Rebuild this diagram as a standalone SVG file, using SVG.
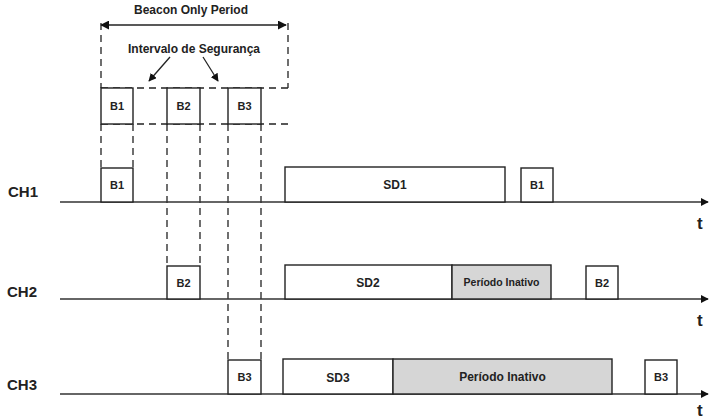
<svg xmlns="http://www.w3.org/2000/svg" width="709" height="420" viewBox="0 0 709 420">
  <defs>
    <marker id="tip" viewBox="0 0 10 10" refX="9" refY="5" markerWidth="8" markerHeight="8" markerUnits="userSpaceOnUse" orient="auto">
      <path d="M0,0 L10,5 L0,10 z" fill="#111"/>
    </marker>
    <marker id="tipBoth" viewBox="0 0 10 10" refX="9" refY="5" markerWidth="9" markerHeight="9" markerUnits="userSpaceOnUse" orient="auto-start-reverse">
      <path d="M0,0 L10,5 L0,10 z" fill="#111"/>
    </marker>
  </defs>
  <style>
    text { font-family: "Liberation Sans", Arial, sans-serif; font-weight: bold; fill: #222; }
    .box { fill: #fff; stroke: #222; stroke-width: 1.4; }
    .idle { fill: #d6d6d6; stroke: #222; stroke-width: 1.4; }
    .axis { stroke: #333; stroke-width: 1.5; fill: none; }
    .dash { stroke: #222; stroke-width: 1.3; stroke-dasharray: 7 5; fill: none; }
    .ptr { stroke: #222; stroke-width: 1.3; fill: none; }
    .b { font-size: 11px; text-anchor: middle; }
    .sd { font-size: 12px; text-anchor: middle; }
    .ch { font-size: 15px; }
    .t { font-size: 17px; }
  </style>
  <rect width="709" height="420" fill="#fff"/>

  <!-- period annotation at the top -->
  <g id="beacon-period">
    <text x="191" y="14" font-size="12" text-anchor="middle">Beacon Only Period</text>
    <line x1="101" y1="25" x2="286" y2="25" class="ptr" marker-start="url(#tipBoth)" marker-end="url(#tipBoth)"/>
    <text x="194" y="53" font-size="12" text-anchor="middle">Intervalo de Segurança</text>
  </g>

  <!-- connectors: dashed guides, pointers and time axes -->
  <g id="connectors">
    <line x1="101" y1="23" x2="101" y2="88" class="dash"/>
    <line x1="288" y1="23" x2="288" y2="88" class="dash"/>
    <line x1="101" y1="88" x2="288" y2="88" class="dash"/>
    <line x1="101" y1="124" x2="288" y2="124" class="dash"/>
    <line x1="170" y1="57" x2="149" y2="81" class="ptr" marker-end="url(#tip)"/>
    <line x1="203" y1="57" x2="218" y2="81" class="ptr" marker-end="url(#tip)"/>

    <line x1="101" y1="124" x2="101" y2="168" class="dash"/>
    <line x1="133" y1="124" x2="133" y2="168" class="dash"/>
    <line x1="167" y1="124" x2="167" y2="266" class="dash"/>
    <line x1="200" y1="124" x2="200" y2="266" class="dash"/>
    <line x1="228" y1="124" x2="228" y2="360" class="dash"/>
    <line x1="261" y1="124" x2="261" y2="360" class="dash"/>

    <line x1="60" y1="202" x2="708" y2="202" class="axis" marker-end="url(#tip)"/>
    <line x1="60" y1="299" x2="708" y2="299" class="axis" marker-end="url(#tip)"/>
    <line x1="60" y1="394" x2="708" y2="394" class="axis" marker-end="url(#tip)"/>
  </g>

  <!-- beacon slots of the only-beacon period -->
  <g id="slot-b1"><rect x="101" y="88" width="32" height="36" class="box"/><text x="117" y="110" class="b">B1</text></g>
  <g id="slot-b2"><rect x="167" y="88" width="33" height="36" class="box"/><text x="183.5" y="110" class="b">B2</text></g>
  <g id="slot-b3"><rect x="228" y="88" width="33" height="36" class="box"/><text x="244.5" y="110" class="b">B3</text></g>

  <!-- channel 1 -->
  <g id="ch1">
    <text x="8" y="197" class="ch">CH1</text>
    <text x="697" y="229" class="t">t</text>
  </g>
  <g id="ch1-b1"><rect x="101" y="168" width="32" height="34" class="box"/><text x="117" y="189" class="b">B1</text></g>
  <g id="ch1-sd1"><rect x="285" y="167" width="220" height="35" class="box"/><text x="395" y="189" class="sd">SD1</text></g>
  <g id="ch1-b1-next"><rect x="521" y="168" width="32" height="34" class="box"/><text x="537" y="189" class="b">B1</text></g>

  <!-- channel 2 -->
  <g id="ch2">
    <text x="7" y="297" class="ch">CH2</text>
    <text x="697" y="326" class="t">t</text>
  </g>
  <g id="ch2-b2"><rect x="167" y="266" width="33" height="33" class="box"/><text x="183.5" y="287" class="b">B2</text></g>
  <g id="ch2-sd2"><rect x="285" y="265" width="167" height="34" class="box"/><text x="368" y="287" class="sd">SD2</text></g>
  <g id="ch2-inativo"><rect x="452" y="265" width="99" height="34" class="idle"/><text x="501.5" y="286" font-size="10.5" text-anchor="middle">Período Inativo</text></g>
  <g id="ch2-b2-next"><rect x="586" y="266" width="32" height="33" class="box"/><text x="602" y="287" class="b">B2</text></g>

  <!-- channel 3 -->
  <g id="ch3">
    <text x="7" y="390" class="ch">CH3</text>
    <text x="697" y="416" class="t">t</text>
  </g>
  <g id="ch3-b3"><rect x="228" y="360" width="33" height="34" class="box"/><text x="244.5" y="381" class="b">B3</text></g>
  <g id="ch3-sd3"><rect x="283" y="359" width="110" height="35" class="box"/><text x="338" y="382" class="sd">SD3</text></g>
  <g id="ch3-inativo"><rect x="393" y="359" width="219" height="35" class="idle"/><text x="502.5" y="381" font-size="12" text-anchor="middle">Período Inativo</text></g>
  <g id="ch3-b3-next"><rect x="645" y="360" width="32" height="34" class="box"/><text x="661" y="381" class="b">B3</text></g>
</svg>
